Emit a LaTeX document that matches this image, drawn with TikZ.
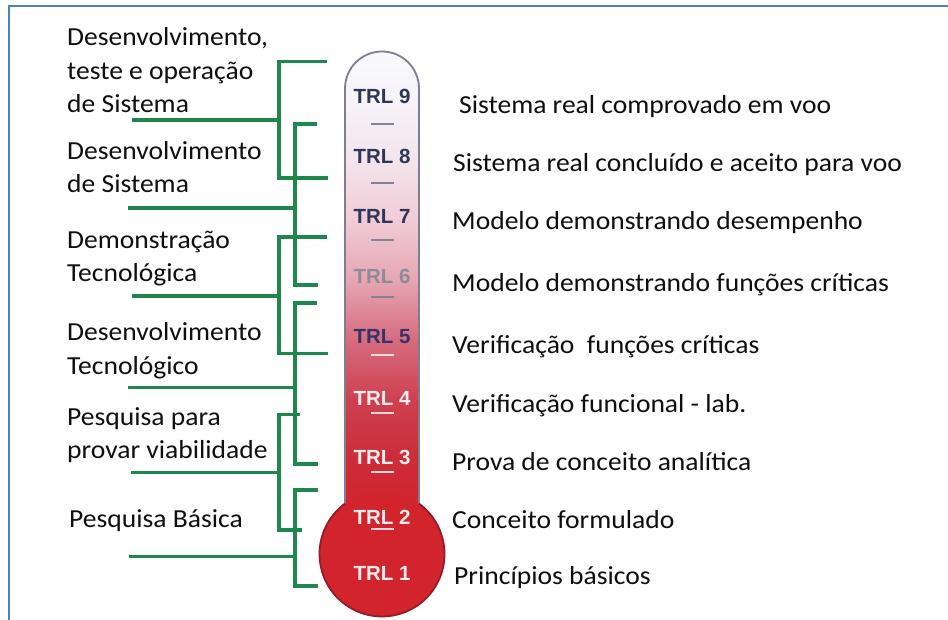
\documentclass[tikz,border=0pt]{standalone}
\usepackage{fontspec}
\setmainfont{Carlito}[FakeStretch=1.06]
\newfontfamily\trlfont{Liberation Sans}
\definecolor{framecol}{RGB}{79,129,189}
\definecolor{brkgreen}{RGB}{30,135,75}
\definecolor{txt}{RGB}{15,15,15}
\definecolor{tubeline}{RGB}{125,125,148}
\definecolor{bulbline}{RGB}{150,28,40}
\definecolor{bulbred}{RGB}{210,36,44}
\definecolor{trldark}{RGB}{45,55,88}
\definecolor{trlgray}{RGB}{140,140,152}
\definecolor{trlpurple}{RGB}{55,50,105}
\definecolor{trllight}{RGB}{250,236,236}
\definecolor{dashgray}{RGB}{128,132,150}
\definecolor{dashlight}{RGB}{244,216,220}
\definecolor{tA}{RGB}{250,250,253}
\definecolor{tB}{RGB}{246,243,249}
\definecolor{tC}{RGB}{244,228,236}
\definecolor{tD}{RGB}{240,204,214}
\definecolor{tE}{RGB}{230,166,178}
\definecolor{tF}{RGB}{214,108,126}
\definecolor{tG}{RGB}{206,64,80}
\definecolor{tH}{RGB}{204,44,56}
\definecolor{tI}{RGB}{210,36,46}
\pgfdeclareverticalshading{tubeshade}{100bp}{color(0bp)=(tI); color(25bp)=(tI); color(30.7bp)=(tH); color(37.2bp)=(tG); color(43.7bp)=(tF); color(50.2bp)=(tE); color(56.7bp)=(tD); color(63.2bp)=(tC); color(69.7bp)=(tB); color(75bp)=(tA); color(100bp)=(tA)}
\tikzset{
  brk/.style={draw=brkgreen, line width=3.3pt},
  lbl/.style={anchor=base west, inner sep=0pt, text=txt, font=\fontsize{26}{33.3}\selectfont},
  grp/.style={anchor=north west, inner sep=0pt, text=txt, align=left, font=\fontsize{26}{33.3}\selectfont},
  trl/.style={anchor=base, inner sep=0pt, font=\trlfont\bfseries\fontsize{20.5}{24}\selectfont},
  tick/.style={line width=2pt},
}
\begin{document}
\begin{tikzpicture}[x=1pt,y=-1pt]
\useasboundingbox (0,0) rectangle (948,620);
\begin{scope}
\clip (0,0) rectangle (948,620);
\fill[white] (0,0) rectangle (948,620);
\draw[framecol, line width=2pt] (9,640) -- (9,6) -- (960,6);

% thermometer
\shade[shading=tubeshade] (345,512) -- (345,88.5) arc[start angle=180, end angle=360, radius=37] -- (419,512) -- cycle;
\fill[bulbred] (382,554) circle[radius=62.5];
\draw[tubeline, line width=1.8pt] (345,503.6) -- (345,88.5) arc[start angle=180, end angle=360, radius=37] -- (419,503.6);
\draw[bulbline, line width=1.8pt] (419,503.6) arc[start angle=-53.7, end angle=233.7, radius=62.5];

% TRL labels
\node[trl, text=trldark]   (t9) at (382,103.3) {TRL 9};
\node[trl, text=trldark]   (t8) at (382,164) {TRL 8};
\node[trl, text=trldark]   (t7) at (382,224) {TRL 7};
\node[trl, text=trlgray]   (t6) at (382,284) {TRL 6};
\node[trl, text=trlpurple] (t5) at (382,343.3) {TRL 5};
\node[trl, text=trllight]  (t4) at (382,405) {TRL 4};
\node[trl, text=trllight]  (t3) at (382,464) {TRL 3};
\node[trl, text=trllight]  (t2) at (382,524) {TRL 2};
\node[trl, text=trllight]  (t1) at (382,580.7) {TRL 1};

% ticks
\foreach \yy in {124,182.7,240,297.3} \draw[tick, dashgray] (371,\yy) -- (394,\yy);
\foreach \yy in {355,413.3,471.7,529.3} \draw[tick, dashlight] (371,\yy) -- (394,\yy);

% right descriptions
\node[lbl] (d9) at (459,113.3) {Sistema real comprovado em voo};
\node[lbl] (d8) at (453,171.7) {Sistema real concluído e aceito para voo};
\node[lbl] (d7) at (452,230) {Modelo demonstrando desempenho};
\node[lbl] (d6) at (452,291.7) {Modelo demonstrando funções críticas};
\node[lbl] (d5) at (452,353.3) {Verificação \ funções críticas};
\node[lbl] (d4) at (452,412.7) {Verificação funcional - lab.};
\node[lbl] (d3) at (452,470) {Prova de conceito analítica};
\node[lbl] (d2) at (452,528.3) {Conceito formulado};
\node[lbl] (d1) at (454,584.3) {Princípios básicos};

% left group labels (top = first baseline - 0.7*33.3)
\node[grp] (g1) at (67,22.4) {\strut Desenvolvimento,\\\strut teste e operação\\\strut de Sistema};
\node[grp] (g2) at (67,136.0) {\strut Desenvolvimento\\\strut de Sistema};
\node[grp] (g3) at (67,225.0) {\strut Demonstração\\\strut Tecnológica};
\node[grp] (g4) at (67,317.4) {\strut Desenvolvimento\\\strut Tecnológico};
\node[grp] (g5) at (67,401.7) {\strut Pesquisa para\\\strut provar viabilidade};
\node[lbl] (g6) at (69,527.7) {Pesquisa Básica};

% brackets
\coordinate (a1) at (132,120);   \coordinate (a2) at (279,120);
\coordinate (b1) at (128,208);   \coordinate (b2) at (295,208);
\coordinate (c1) at (132,296);   \coordinate (c2) at (279,296);
\coordinate (e1) at (128,387.7); \coordinate (e2) at (295,387.7);
\coordinate (f1) at (131,472.7); \coordinate (f2) at (279,472.7);
\coordinate (h1) at (129,556.7); \coordinate (h2) at (295,556.7);

\draw[brk] (327,61.5) -- (279,61.5) -- (279,178) -- (328,178);
\draw[brk] (a1) -- (a2);
\draw[brk] (317,124) -- (295,124) -- (295,285) -- (318,285);
\draw[brk] (b1) -- (b2);
\draw[brk] (327,237) -- (279,237) -- (279,353.3) -- (328,353.3);
\draw[brk] (c1) -- (c2);
\draw[brk] (317,303) -- (295,303) -- (295,464) -- (318,464);
\draw[brk] (e1) -- (e2);
\draw[brk] (300,414.3) -- (279,414.3) -- (279,530) -- (302,530);
\draw[brk] (f1) -- (f2);
\draw[brk] (318,490) -- (295,490) -- (295,586) -- (318,586);
\draw[brk] (h1) -- (h2);
\end{scope}
\end{tikzpicture}
\end{document}
